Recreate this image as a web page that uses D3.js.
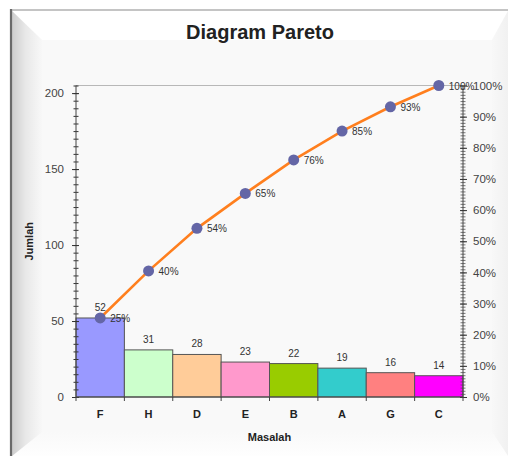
<!DOCTYPE html>
<html>
<head>
<meta charset="utf-8">
<script src="https://cdn.jsdelivr.net/npm/d3@7"></script>
<style>
  html, body { margin: 0; padding: 0; background: #ffffff; }
  svg { display: block; }
</style>
</head>
<body>
<svg id="chart" width="508" height="459"></svg>
<script>
// Pareto data: problem categories sorted by count
const categories = ["F", "H", "D", "E", "B", "A", "G", "C"];
const counts = [52, 31, 28, 23, 22, 19, 16, 14];
const barColors = ["#9999ff", "#ccffcc", "#ffcc99", "#ff99cc", "#99cc00", "#33cccc", "#ff8080", "#ff00ff"];
const leftTicks = [0, 50, 100, 150, 200];
const rightTicks = [0, 0.1, 0.2, 0.3, 0.4, 0.5, 0.6, 0.7, 0.8, 0.9, 1.0];

const title = "Diagram Pareto";
const xTitle = "Masalah";
const yTitle = "Jumlah";

const total = d3.sum(counts);
const cumulative = d3.cumsum(counts);
const cumPct = Array.from(cumulative, c => c / total);

const svg = d3.select("#chart");

// ---- beveled card background ----
const defs = svg.append("defs");
const gLeft = defs.append("linearGradient").attr("id", "bevLeft").attr("x1", 0).attr("x2", 1).attr("y1", 0).attr("y2", 0);
gLeft.append("stop").attr("offset", 0).attr("stop-color", "#cdcdcd");
gLeft.append("stop").attr("offset", 0.45).attr("stop-color", "#e8e8e8");
gLeft.append("stop").attr("offset", 1).attr("stop-color", "#f8f8f8");
const gRight = defs.append("linearGradient").attr("id", "bevRight").attr("x1", 0).attr("x2", 1).attr("y1", 0).attr("y2", 0);
gRight.append("stop").attr("offset", 0).attr("stop-color", "#f8f8f8");
gRight.append("stop").attr("offset", 1).attr("stop-color", "#f1f1f1");
const gBottom = defs.append("linearGradient").attr("id", "bevBottom").attr("x1", 0).attr("x2", 0).attr("y1", 0).attr("y2", 1);
gBottom.append("stop").attr("offset", 0).attr("stop-color", "#f9f9f9");
gBottom.append("stop").attr("offset", 1).attr("stop-color", "#fefefe");

const card = { x0: 12, y0: 11, x1: 508, y1: 456 };
const inner = { x0: 42, y0: 40, x1: 492, y1: 432 };

svg.append("rect")
  .attr("x", card.x0).attr("y", card.y0)
  .attr("width", card.x1 - card.x0).attr("height", card.y1 - card.y0)
  .attr("fill", "#f9f9f9");

const poly = pts => pts.map(p => p.join(",")).join(" ");
svg.append("polygon")
  .attr("points", poly([[card.x0, card.y0], [card.x1, card.y0], [inner.x1, inner.y0], [inner.x0, inner.y0]]))
  .attr("fill", "#ffffff");
svg.append("polygon")
  .attr("points", poly([[card.x1, card.y0], [card.x1, card.y1], [inner.x1, inner.y1], [inner.x1, inner.y0]]))
  .attr("fill", "url(#bevRight)");
svg.append("polygon")
  .attr("points", poly([[card.x0, card.y1], [card.x1, card.y1], [inner.x1, inner.y1], [inner.x0, inner.y1]]))
  .attr("fill", "url(#bevBottom)");
svg.append("polygon")
  .attr("points", poly([[card.x0, card.y0], [inner.x0, inner.y0], [inner.x0, inner.y1], [card.x0, card.y1]]))
  .attr("fill", "url(#bevLeft)");

// card edges
svg.append("line").attr("x1", card.x0).attr("x2", card.x1).attr("y1", 10).attr("y2", 10)
  .attr("stroke", "#c4c4c4").attr("stroke-width", 2);
svg.append("line").attr("x1", 11).attr("x2", 11).attr("y1", 9).attr("y2", card.y1)
  .attr("stroke", "#6a6a6a").attr("stroke-width", 2.2);

// ---- title ----
svg.append("text")
  .attr("x", 260).attr("y", 39)
  .attr("text-anchor", "middle")
  .attr("font-family", "'Liberation Sans', Arial, sans-serif")
  .attr("font-weight", "bold")
  .attr("font-size", 20)
  .attr("fill", "#222222")
  .text(title);

// ---- scales ----
const plot = { left: 76, right: 463, top: 85.5, bottom: 397 };

const x = d3.scaleBand()
  .domain(categories)
  .range([plot.left, plot.right])
  .paddingInner(0).paddingOuter(0);

const y = d3.scaleLinear().domain([0, total]).range([plot.bottom, plot.top]);
const yPct = d3.scaleLinear().domain([0, 1]).range([plot.bottom, plot.top]);

// top border of plot area
svg.append("line")
  .attr("x1", plot.left).attr("x2", plot.right)
  .attr("y1", plot.top).attr("y2", plot.top)
  .attr("stroke", "#b8b8b8").attr("stroke-width", 1);

// ---- bars ----
svg.append("g").selectAll("rect")
  .data(categories)
  .join("rect")
  .attr("x", d => x(d))
  .attr("y", (d, i) => y(counts[i]))
  .attr("width", x.bandwidth())
  .attr("height", (d, i) => y(0) - y(counts[i]))
  .attr("fill", (d, i) => barColors[i])
  .attr("stroke", "#555555")
  .attr("stroke-width", 1);

// value labels above bars
svg.append("g").selectAll("text")
  .data(categories)
  .join("text")
  .attr("x", d => x(d) + x.bandwidth() / 2)
  .attr("y", (d, i) => y(counts[i]) - 7)
  .attr("text-anchor", "middle")
  .attr("font-family", "'Liberation Sans', Arial, sans-serif")
  .attr("font-size", 10)
  .attr("fill", "#333333")
  .text((d, i) => counts[i]);

// ---- axes ----
const axisFont = "'Liberation Sans', Arial, sans-serif";

// left axis: minor ticks every 5, major every 50
const gLeftAxis = svg.append("g").attr("transform", `translate(${plot.left},0)`);
gLeftAxis.append("g")
  .call(d3.axisLeft(y).tickValues(d3.range(0, total + 0.1, 5)).tickSize(2.5).tickSizeOuter(0).tickFormat(""))
  .call(g => g.select(".domain").remove())
  .call(g => g.selectAll("line").attr("x2", 2.5).attr("x1", -2.5).attr("stroke", "#333"));
gLeftAxis.append("g")
  .call(d3.axisLeft(y).tickValues(leftTicks).tickSize(4).tickSizeOuter(0).tickPadding(8))
  .call(g => g.select(".domain").attr("stroke", "#444").attr("d", `M0,${plot.bottom}V${plot.top}`))
  .call(g => g.selectAll("line").attr("x1", 3).attr("stroke", "#333"))
  .call(g => g.selectAll("text").attr("font-family", axisFont).attr("font-size", 11.5).attr("fill", "#444"));

// right axis: percentage of total, minor ticks every 1%
const gRightAxis = svg.append("g").attr("transform", `translate(${plot.right},0)`);
gRightAxis.append("g")
  .call(d3.axisRight(yPct).tickValues(d3.range(0, 1.001, 0.01)).tickSize(2.5).tickSizeOuter(0).tickFormat(""))
  .call(g => g.select(".domain").remove())
  .call(g => g.selectAll("line").attr("x1", -2.5).attr("stroke", "#555").attr("stroke-width", 0.8));
gRightAxis.append("g")
  .call(d3.axisRight(yPct).tickValues(rightTicks).tickSize(4).tickSizeOuter(0).tickPadding(6).tickFormat(d3.format(".0%")))
  .call(g => g.select(".domain").attr("stroke", "#444").attr("d", `M0,${plot.bottom}V${plot.top}`))
  .call(g => g.selectAll("line").attr("x1", -3).attr("stroke", "#333"))
  .call(g => g.selectAll("text").attr("font-family", axisFont).attr("font-size", 11.5).attr("fill", "#444"));

// bottom axis: ticks at category boundaries
const gBottomAxis = svg.append("g").attr("transform", `translate(0,${plot.bottom})`);
gBottomAxis.append("line")
  .attr("x1", plot.left).attr("x2", plot.right)
  .attr("stroke", "#444");
gBottomAxis.selectAll("line.sep")
  .data(categories.concat([null]))
  .join("line")
  .attr("class", "sep")
  .attr("x1", (d, i) => i < categories.length ? x(d) : plot.right)
  .attr("x2", (d, i) => i < categories.length ? x(d) : plot.right)
  .attr("y1", 0).attr("y2", 4)
  .attr("stroke", "#444");
gBottomAxis.selectAll("text")
  .data(categories)
  .join("text")
  .attr("x", d => x(d) + x.bandwidth() / 2)
  .attr("y", 21)
  .attr("text-anchor", "middle")
  .attr("font-family", axisFont)
  .attr("font-weight", "bold")
  .attr("font-size", 11)
  .attr("fill", "#222")
  .text(d => d);

// axis titles
svg.append("text")
  .attr("x", (plot.left + plot.right) / 2).attr("y", 441)
  .attr("text-anchor", "middle")
  .attr("font-family", axisFont).attr("font-weight", "bold").attr("font-size", 11)
  .attr("fill", "#222")
  .text(xTitle);
svg.append("text")
  .attr("transform", `translate(33,${(plot.top + plot.bottom) / 2}) rotate(-90)`)
  .attr("text-anchor", "middle")
  .attr("font-family", axisFont).attr("font-weight", "bold").attr("font-size", 11)
  .attr("fill", "#222")
  .text(yTitle);

// ---- cumulative percentage line ----
const cx = d => x(d) + x.bandwidth() / 2;
const line = d3.line()
  .x((p, i) => cx(categories[i]))
  .y(p => yPct(p));

svg.append("path")
  .datum(cumPct)
  .attr("d", line)
  .attr("fill", "none")
  .attr("stroke", "#ff7f1e")
  .attr("stroke-width", 2.6);

svg.append("g").selectAll("circle")
  .data(cumPct)
  .join("circle")
  .attr("cx", (p, i) => cx(categories[i]))
  .attr("cy", p => yPct(p))
  .attr("r", 5.5)
  .attr("fill", "#6466a6");

svg.append("g").selectAll("text")
  .data(cumPct)
  .join("text")
  .attr("x", (p, i) => cx(categories[i]) + 10)
  .attr("y", p => yPct(p) + 4)
  .attr("font-family", axisFont)
  .attr("font-size", 10)
  .attr("fill", "#333")
  .text(p => d3.format(".0%")(p));
</script>
</body>
</html>
